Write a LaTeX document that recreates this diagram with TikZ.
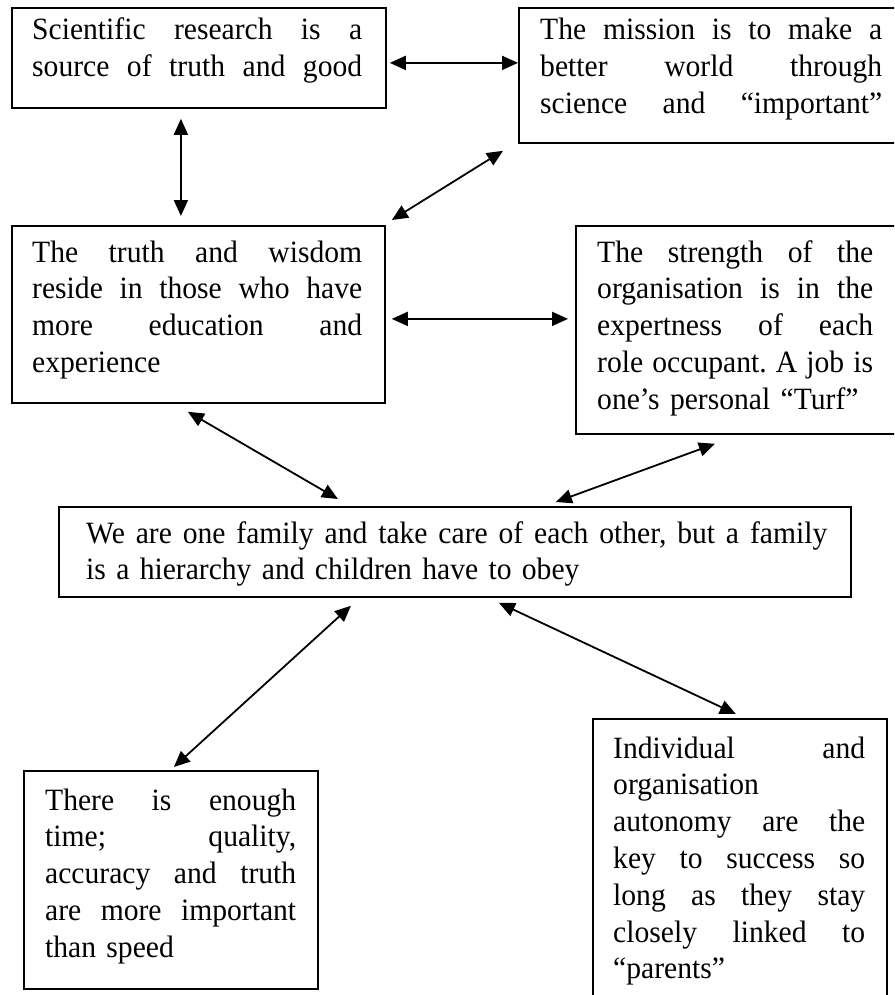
\documentclass[tikz,border=0pt]{standalone}
\usepackage{fontspec}
\setmainfont{Liberation Serif}[FakeStretch=0.955]
\usetikzlibrary{arrows.meta}
% one justified line: the interword spaces share the free room equally
\newcommand\jline[1]{\leavevmode\hbox to \linewidth{\spaceskip=\fontdimen2\font plus 1fil\relax #1}}
\frenchspacing

\begin{document}
\begin{tikzpicture}[x=1pt,y=-1pt,
  frame/.style={draw, line width=1.8pt, rectangle, inner sep=0pt, anchor=north west},
  txt/.style={inner sep=0pt, anchor=base west, align=left,
              font=\fontsize{31pt}{36.8pt}\selectfont},
  link/.style={line width=1.8pt,
               {Triangle[length=16pt,width=14pt]}-{Triangle[length=16pt,width=14pt]}}]

\useasboundingbox (0,0) rectangle (894,995);
\fill[white] (0,0) rectangle (894,995);
\clip (0,0) rectangle (894,995);

% frames
\node[frame, minimum width=374pt, minimum height=100pt] (sci) at (11,7) {};
\node[frame, minimum width=390pt, minimum height=135pt] (mis) at (518,7) {};
\node[frame, minimum width=373pt, minimum height=177pt] (tru) at (11,225) {};
\node[frame, minimum width=330pt, minimum height=208pt] (str) at (575,225) {};
\node[frame, minimum width=792pt, minimum height=90pt]  (fam) at (58,506) {};
\node[frame, minimum width=294pt, minimum height=218pt] (tim) at (23,770) {};
\node[frame, minimum width=294pt, minimum height=300pt] (ind) at (592,718) {};

% texts
\node[txt, text width=330pt] (scitext) at (32,40)
  {\jline{Scientific research is a}\\
   \jline{source of truth and good}};
\node[txt, text width=342pt] (mistext) at (540,40)
  {\jline{The mission is to make a}\\
   \jline{better world through}\\
   \jline{science and “important”}};
\node[txt, text width=330pt] (trutext) at (32,262)
  {\jline{The truth and wisdom}\\
   \jline{reside in those who have}\\
   \jline{more education and}\\
   experience};
\node[txt, text width=276pt] (strtext) at (597,262)
  {\jline{The strength of the}\\
   \jline{organisation is in the}\\
   \jline{expertness of each}\\
   \jline{role occupant. A job is}\\
   one’s personal “Turf”};
\node[txt, text width=741pt] (famtext) at (86,543)
  {\jline{We are one family and take care of each other, but a family}\\
   is a hierarchy and children have to obey};
\node[txt, text width=251pt] (timtext) at (45,810)
  {\jline{There is enough}\\
   \jline{time; quality,}\\
   \jline{accuracy and truth}\\
   \jline{are more important}\\
   than speed};
\node[txt, text width=252pt] (indtext) at (613,758)
  {\jline{Individual and}\\
   organisation\\
   \jline{autonomy are the}\\
   \jline{key to success so}\\
   \jline{long as they stay}\\
   \jline{closely linked to}\\
   “parents”};

% two-way links
\draw[link] ([shift={(3,5)}]sci.east) -- ([shift={(0,-12.5)}]mis.west);
\draw[link] ([shift={(-18,10)}]sci.south) -- ([shift={(-17.5,-9)}]tru.north);
\draw[link] ([shift={(6,-5)}]tru.north east) -- ([shift={(-15,7)}]mis.south west);
\draw[link] ([shift={(6,4.5)}]tru.east) -- ([shift={(-7,-11)}]str.west);
\draw[link] ([shift={(-10.5,8)}]tru.south) -- ([shift={(-117,-7)}]fam.north);
\draw[link] ([shift={(-26,9)}]str.south) -- ([shift={(101,-4)}]fam.north);
\draw[link] ([shift={(-104,8)}]fam.south) -- ([shift={(3,-3)}]tim.north);
\draw[link] ([shift={(44,5)}]fam.south) -- ([shift={(-4,-4)}]ind.north);

\end{tikzpicture}
\end{document}
